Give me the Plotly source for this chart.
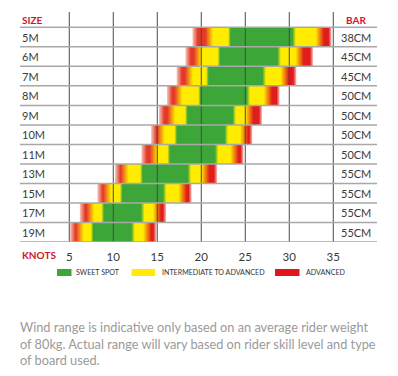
import plotly.graph_objects as go

sizes = ["5M", "6M", "7M", "8M", "9M", "10M", "11M", "13M", "15M", "17M", "19M"]
bar_lengths = ["38CM", "45CM", "45CM", "50CM", "50CM", "50CM", "50CM", "55CM", "55CM", "55CM", "55CM"]
adv_low_start = [19.0, 18.2, 17.2, 16.1, 15.2, 14.3, 13.2, 10.2, 8.2, 6.2, 5.1]
int_low_start = [20.9, 19.6, 18.6, 17.4, 16.6, 15.4, 14.6, 11.3, 9.3, 7.4, 6.2]
sweet_start = [23.2, 22.0, 20.7, 19.8, 18.3, 17.1, 16.3, 13.2, 10.9, 8.8, 7.6]
sweet_end = [30.5, 28.8, 27.1, 25.3, 23.7, 22.8, 21.7, 18.6, 15.8, 13.3, 12.2]
int_high_end = [33.5, 31.2, 29.5, 27.6, 25.5, 24.9, 23.8, 20.5, 17.9, 15.0, 13.9]
adv_high_end = [34.8, 32.7, 30.8, 28.9, 26.9, 25.8, 24.8, 21.8, 18.9, 16.0, 14.9]
knot_ticks = [5, 10, 15, 20, 25, 30, 35]
legend_labels = ["SWEET SPOT", "INTERMEDIATE TO ADVANCED", "ADVANCED"]
note = ("Wind range is indicative only based on an average rider weight<br>"
        "of 80kg. Actual range will vary based on rider skill level and type<br>"
        "of board used.")

GREEN = "#3da639"
YELLOW = "#ffec00"
RED_L = "#e4392a"
RED_R = "#e01c1c"
PALE_L = "#f6c6b8"
PALE_R = "#f4c0b8"
HEAD_RED = "#d2142c"
TXT = "#3a3a3a"

fig = go.Figure()

n = len(sizes)
for i in range(n):
    s, a, b = adv_low_start[i], int_low_start[i], sweet_start[i]
    c, d, e = sweet_end[i], int_high_end[i], adv_high_end[i]
    stops = [
        (s, PALE_L), (s + 0.6, RED_L), (a - 0.45, RED_L), (a + 0.45, YELLOW),
        (b - 0.15, YELLOW), (b + 0.15, GREEN), (c - 0.15, GREEN), (c + 0.25, YELLOW),
        (d - 0.5, YELLOW), (d + 0.45, RED_R), (e - 0.35, RED_R), (e, PALE_R),
    ]
    span = e - s
    cs = [[(p - s) / span, col] for p, col in stops]
    fig.add_trace(go.Scatter(
        x=[s, e, e, s, s],
        y=[i - 0.5, i - 0.5, i + 0.5, i + 0.5, i - 0.5],
        mode="lines", fill="toself", line=dict(width=0),
        fillgradient=dict(type="horizontal", colorscale=cs, start=s, stop=e),
        hoverinfo="skip", showlegend=False,
    ))

header_top = -0.5 - 0.785

# vertical grid lines (above bars)
for t in knot_ticks:
    fig.add_shape(type="line", xref="x", yref="y", x0=t, x1=t, y0=header_top, y1=n - 0.5,
                  line=dict(color="#4a4a4a", width=1), layer="above")
# horizontal row lines
for i in range(n + 1):
    fig.add_shape(type="line", xref="paper", yref="y", x0=0, x1=1, y0=i - 0.5, y1=i - 0.5,
                  line=dict(color="#a8a8a8", width=1.5), layer="above")

# screen-pixel helpers (page has an 8px body margin)
W_PLOT = 357.0
PLOT_H = 230.0
def py(px):
    return (242 - px) / PLOT_H
def pxx(px):
    return (px - 20) / W_PLOT

# row labels
for i in range(n):
    fig.add_annotation(x=0, xref="paper", y=i, yref="y", text=sizes[i], showarrow=False,
                       xanchor="left", font=dict(family="Lato", size=11, color=TXT))
    fig.add_annotation(x=pxx(356), xref="paper", y=i, yref="y",
                       text=bar_lengths[i], showarrow=False, xanchor="center",
                       font=dict(family="Lato", size=11, color=TXT))

hy = (header_top + (-0.5)) / 2
fig.add_annotation(x=0, xref="paper", y=hy, yref="y", text="<b>SIZE</b>", showarrow=False,
                   xanchor="left", font=dict(family="Lato", size=10, color=HEAD_RED))
fig.add_annotation(x=pxx(356), xref="paper", y=hy, yref="y", text="<b>BAR</b>",
                   showarrow=False, xanchor="center",
                   font=dict(family="Lato", size=10, color=HEAD_RED))

fig.add_annotation(x=0, xref="paper", y=py(255), yref="paper", text="<b>KNOTS</b>",
                   showarrow=False, xanchor="left", yanchor="middle",
                   font=dict(family="Lato", size=10, color=HEAD_RED))

# legend swatches
sw = [(57, 71.5, GREEN, 74), (131.5, 155, YELLOW, 159.5), (275, 299.5, "#e3151c", 303.5)]
for (x0, x1, col, tx), lab in zip(sw, legend_labels):
    fig.add_shape(type="rect", xref="paper", yref="paper", x0=pxx(x0), x1=pxx(x1),
                  y0=py(276), y1=py(269), fillcolor=col, line=dict(width=0))
    fig.add_annotation(x=pxx(tx), xref="paper", y=py(272.5), yref="paper", text=lab,
                       showarrow=False, xanchor="left", yanchor="middle",
                       font=dict(family="Lato", size=7.1, color="#333333"))

fig.add_annotation(x=pxx(18), xref="paper", y=py(317), yref="paper", text=note,
                   showarrow=False, xanchor="left", yanchor="top", align="left",
                   font=dict(family="Lato", size=12.75, color="#9a9a9a"))

fig.update_layout(
    width=390, height=368,
    margin=dict(l=12, r=21, t=4, b=134),
    paper_bgcolor="white", plot_bgcolor="white",
    xaxis=dict(range=[-0.6, 39.97], tickvals=knot_ticks, ticktext=[str(t) for t in knot_ticks],
               showgrid=False, zeroline=False, showline=False, ticks="",
               ticklabelstandoff=6,
               tickfont=dict(family="Lato", size=11.5, color=TXT), fixedrange=True),
    yaxis=dict(range=[n - 0.5, header_top], showgrid=False, zeroline=False, showline=False,
               showticklabels=False, fixedrange=True),
    showlegend=False,
)

fig.write_html("out.html")
